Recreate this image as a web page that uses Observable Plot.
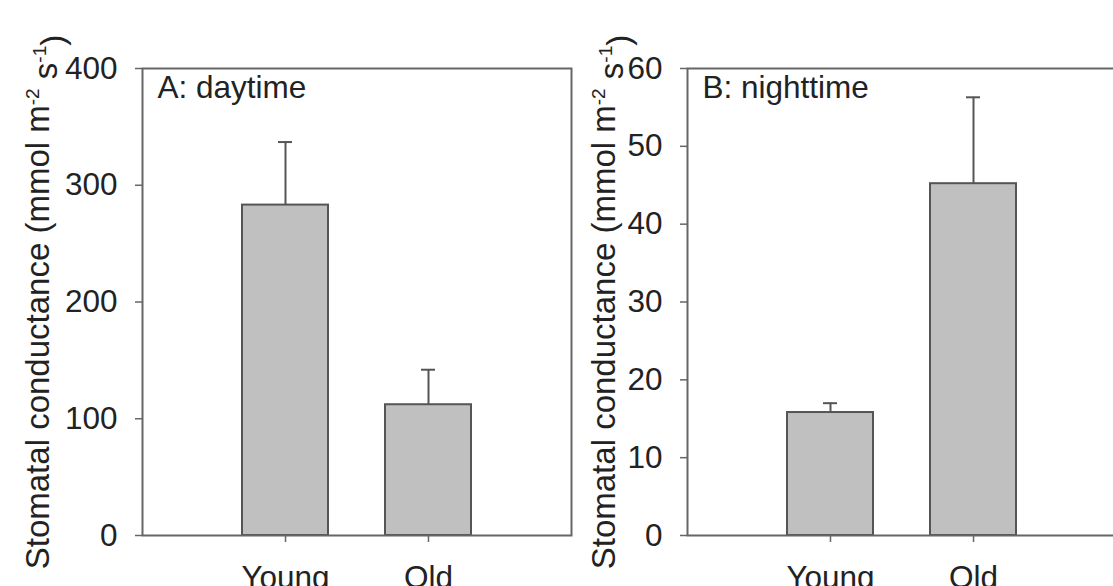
<!DOCTYPE html>
<html>
<head>
<meta charset="utf-8">
<script src="https://cdn.jsdelivr.net/npm/d3@7"></script>
<script src="https://cdn.jsdelivr.net/npm/@observablehq/plot@0.6"></script>
<style>
  html, body { margin: 0; padding: 0; background: white; }
  #wrap { display: flex; width: 1113px; height: 586px; overflow: hidden; }
  #wrap svg { flex-shrink: 0; display: block; }
</style>
</head>
<body>
<div id="wrap"></div>
<script>
// ---- data ----
const categories = ["Young", "Old"];
const dayMeans = [283, 112];
const daySE = [54, 30];
const nightMeans = [15.8, 45.2];
const nightSE = [1.2, 11.1];
const dayTicks = [0, 100, 200, 300, 400];
const nightTicks = [0, 10, 20, 30, 40, 50, 60];
const panelTitles = ["A: daytime", "B: nighttime"];
const yLabelMain = "Stomatal conductance (mmol m";

const FONT = "'Liberation Sans', Arial, Helvetica, sans-serif";

function panel({means, se, yDomain, yTicks, title, marginLeft, marginRight, width, labelX}) {
  const rows = categories.map((c, i) => ({cat: c, mean: means[i], top: means[i] + se[i]}));
  const svg = Plot.plot({
    width, height: 586,
    marginLeft, marginRight, marginTop: 68, marginBottom: 51,
    style: {fontFamily: FONT, fontSize: "31px", color: "#222", background: "white", overflow: "visible"},
    x: {domain: categories, paddingInner: 0.4, paddingOuter: 0.7, label: null},
    y: {domain: yDomain, label: null},
    marks: [
      Plot.ruleX(rows, {x: "cat", y1: "mean", y2: "top", stroke: "#555", strokeWidth: 2}),
      Plot.tickY(rows, {x: "cat", y: "top", stroke: "#555", strokeWidth: 2, insetLeft: 36, insetRight: 36}),
      Plot.barY(rows, {x: "cat", y: "mean", fill: "#c0c0c0", stroke: "#555", strokeWidth: 2}),
      Plot.frame({stroke: "#666", strokeWidth: 2}),
      Plot.axisX({tickSize: 7, tickPadding: 23, stroke: "#666", strokeWidth: 1.5, fill: "#222", fontSize: 31.5, label: null}),
      Plot.axisY({ticks: yTicks, tickSize: 7, tickPadding: 18, stroke: "#666", strokeWidth: 1.5, fill: "#222", fontSize: 31.5, label: null, tickFormat: d => String(d)}),
      Plot.text([title], {frameAnchor: "top-left", dx: 15, dy: 7, lineAnchor: "top", textAnchor: "start", fontSize: 31.5, fill: "#222"})
    ]
  });
  const t = d3.select(svg).append("text")
    .attr("transform", `translate(${labelX},302) rotate(-90)`)
    .attr("text-anchor", "middle")
    .attr("fill", "#222")
    .style("font-family", FONT)
    .style("font-size", "33px");
  t.append("tspan").text(yLabelMain);
  t.append("tspan").attr("dy", "-0.55em").style("font-size", "19px").text("-2");
  t.append("tspan").attr("dy", "0.55em").text(" s");
  t.append("tspan").attr("dy", "-0.55em").style("font-size", "19px").text("-1");
  t.append("tspan").attr("dy", "0.55em").text(")");
  return svg;
}

const wrap = document.getElementById("wrap");
wrap.appendChild(panel({
  means: dayMeans, se: daySE, yDomain: [0, 400], yTicks: dayTicks, title: panelTitles[0],
  marginLeft: 142, marginRight: 9, width: 580, labelX: 49
}));
wrap.appendChild(panel({
  means: nightMeans, se: nightSE, yDomain: [0, 60], yTicks: nightTicks, title: panelTitles[1],
  marginLeft: 107, marginRight: 0, width: 536, labelX: 615 - 580
}));
</script>
</body>
</html>
